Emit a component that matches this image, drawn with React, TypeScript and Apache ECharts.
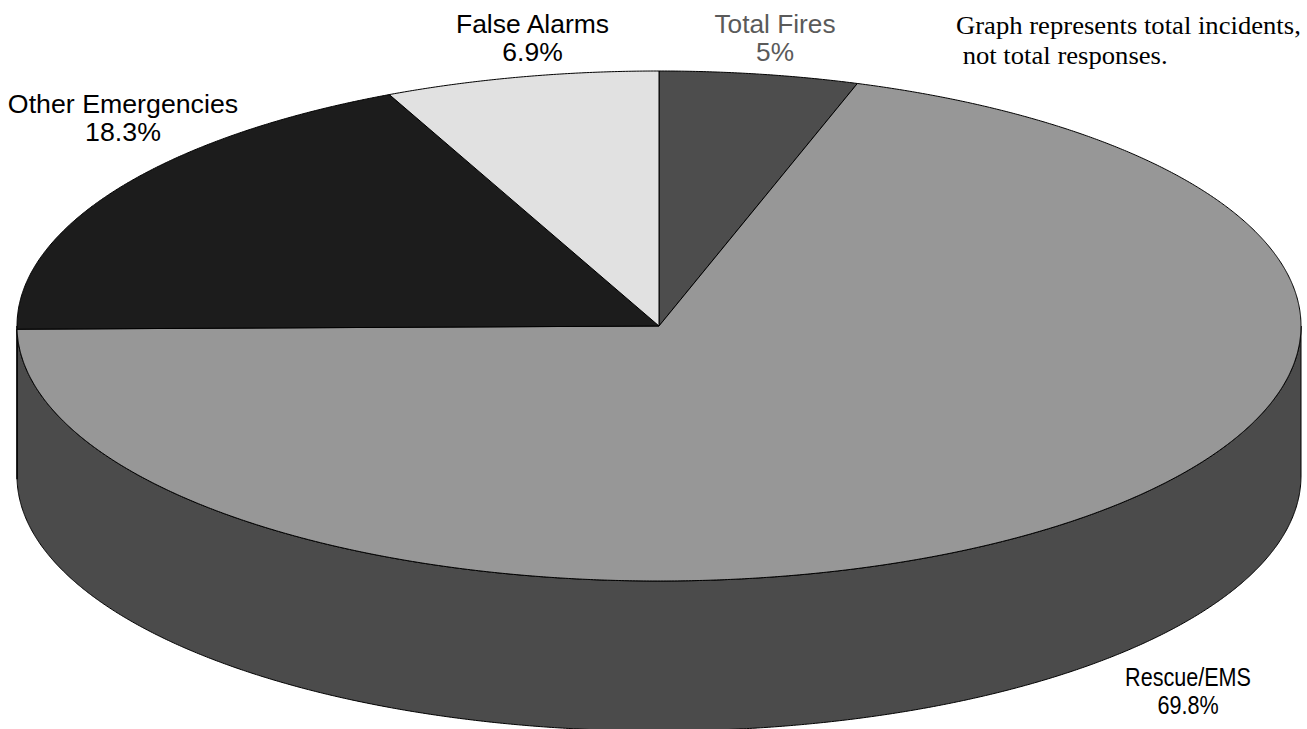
import React, { useEffect, useRef } from "react";
import * as echarts from "echarts";

const categories = ["Total Fires", "Rescue/EMS", "Other Emergencies", "False Alarms"];
const percents = [5, 69.8, 18.3, 6.9];
const topColors = ["#4d4d4d", "#979797", "#1c1c1c", "#e1e1e1"];
const labelColors = ["#5a5a5a", "#000000", "#000000", "#000000"];
const noteLines = ["Graph represents total incidents,", " not total responses."];

const WIDTH = 1307;
const HEIGHT = 729;
const CX = 659;
const CY = 326;
const RX = 642;
const RY = 255;
const DEPTH = 150;
const SIDE_COLOR = "#4b4b4b";
const SANS = '"Liberation Sans", Arial, sans-serif';
const SERIF = '"Liberation Serif", "Times New Roman", serif';

// label anchors, in the same order as categories
const labelAnchors = [
  { x: 775, y: 38, size: 25, scaleX: 1.05 },
  { x: 1188, y: 690.5, size: 26, scaleX: 0.83 },
  { x: 123, y: 118, size: 25, scaleX: 1.07 },
  { x: 532.5, y: 38, size: 25, scaleX: 1.06 },
];

const total = percents.reduce((a, b) => a + b, 0);

// Angle is measured clockwise from 12 o'clock, in degrees.
function rimPoint(deg: number, dy = 0): [number, number] {
  const r = (deg * Math.PI) / 180;
  return [CX + RX * Math.sin(r), CY - RY * Math.cos(r) + dy];
}

function arcPoints(from: number, to: number, dy = 0): [number, number][] {
  const pts: [number, number][] = [];
  const steps = Math.max(2, Math.ceil(Math.abs(to - from) * 4));
  for (let i = 0; i <= steps; i++) {
    pts.push(rimPoint(from + ((to - from) * i) / steps, dy));
  }
  return pts;
}

function sliceAngles(index: number): [number, number] {
  let before = 0;
  for (let i = 0; i < index; i++) before += percents[i];
  return [(before / total) * 360, ((before + percents[index]) / total) * 360];
}

function renderTop(params: any, api: any) {
  const i = params.dataIndex;
  const [start] = sliceAngles(i);
  const end = start + (api.value(0) / total) * 360;
  const anchor = labelAnchors[i];
  return {
    type: "group",
    children: [
      {
        type: "polygon",
        shape: { points: [[CX, CY], ...arcPoints(start, end)] },
        style: { fill: topColors[i], stroke: "#000000", lineWidth: 1, lineJoin: "round" },
      },
      {
        type: "text",
        x: anchor.x,
        y: anchor.y,
        scaleX: anchor.scaleX,
        style: {
          text: `${categories[i]}\n${api.value(0)}%`,
          fill: labelColors[i],
          font: `${anchor.size}px ${SANS}`,
          align: "center",
          verticalAlign: "middle",
          lineHeight: 28,
        },
      },
    ],
  };
}

function renderSide(params: any, api: any) {
  const i = params.dataIndex;
  const [start] = sliceAngles(i);
  const end = start + (api.value(0) / total) * 360;
  const from = Math.max(start, 90);
  const to = Math.min(end, 270);
  if (to <= from) return { type: "group", children: [] };
  return {
    type: "polygon",
    shape: { points: [...arcPoints(from, to), ...arcPoints(to, from, DEPTH)] },
    style: { fill: SIDE_COLOR, stroke: "#000000", lineWidth: 1, lineJoin: "round" },
  };
}

export default function App() {
  const ref = useRef<HTMLDivElement>(null);

  useEffect(() => {
    document.body.style.margin = "0";
    const chart = echarts.init(ref.current as HTMLDivElement, undefined, { renderer: "svg" });
    chart.setOption({
      animation: false,
      backgroundColor: "#ffffff",
      series: [
        {
          type: "custom",
          coordinateSystem: "none",
          silent: true,
          clip: false,
          data: percents.map((v) => [v]),
          renderItem: renderSide,
          z: 1,
        },
        {
          type: "custom",
          coordinateSystem: "none",
          silent: true,
          clip: false,
          data: percents.map((v) => [v]),
          renderItem: renderTop,
          z: 2,
        },
      ],
      graphic: [
        {
          type: "text",
          x: 956,
          y: 26,
          scaleX: 1.045,
          style: {
            text: noteLines[0],
            font: `25.5px ${SERIF}`,
            fill: "#000000",
            verticalAlign: "middle",
          },
        },
        {
          type: "text",
          x: 956,
          y: 56,
          scaleX: 1.045,
          style: {
            text: noteLines[1],
            font: `25.5px ${SERIF}`,
            fill: "#000000",
            verticalAlign: "middle",
          },
        },
      ],
    });
    return () => chart.dispose();
  }, []);

  return (
    <div
      ref={ref}
      style={{ position: "absolute", left: 0, top: 0, width: WIDTH, height: HEIGHT, overflow: "hidden" }}
    />
  );
}
